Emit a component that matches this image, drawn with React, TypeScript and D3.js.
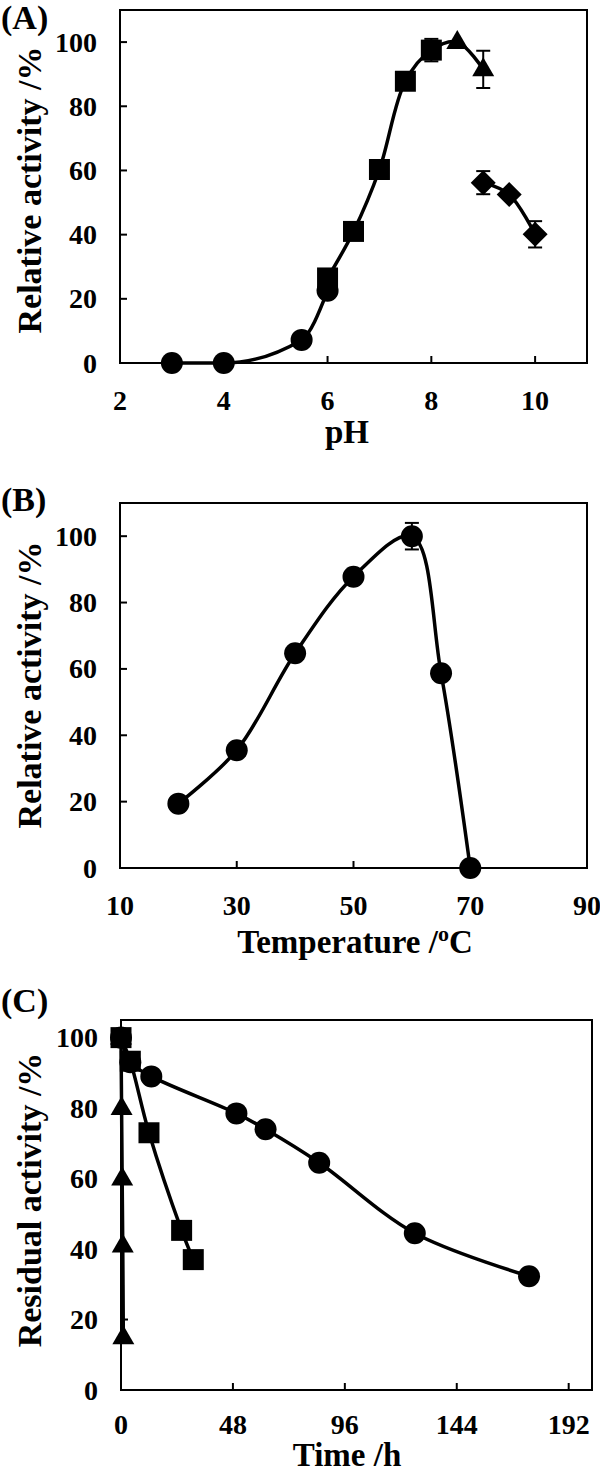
import React from 'react';
import * as d3 from 'd3';

// ---------- Panel A: pH ----------
const phCircleX = [3, 4, 5.5, 6];
const phCircleY = [0, 0, 7.2, 22.5];
const phSquareX = [6, 6.5, 7, 7.5, 8];
const phSquareY = [26.5, 41, 60.3, 87.8, 97.5];
const phSquareErr = [0, 0, 0, 0, 3.5];
const phTriangleX = [8.5, 9];
const phTriangleY = [100, 91.5];
const phTriangleErr = [0, 5.8];
const phDiamondX = [9, 9.5, 10];
const phDiamondY = [56.2, 52.5, 40.1];
const phDiamondErr = [3.6, 0, 4.1];
const phTicks = [2, 4, 6, 8, 10];
const activityTicks = [0, 20, 40, 60, 80, 100];

// ---------- Panel B: temperature ----------
const tempX = [20, 30, 40, 50, 60, 65, 70];
const tempY = [19.4, 35.5, 64.7, 87.8, 100, 58.7, 0];
const tempErr = [0, 0, 0, 1.8, 4, 0, 0];
const tempTicks = [10, 30, 50, 70, 90];

// ---------- Panel C: time ----------
const timeCircleX = [0, 4, 13, 49.5, 62, 85, 126, 175];
const timeCircleY = [100, 93, 89, 78.5, 74, 64.5, 44.5, 32.3];
const timeSquareX = [0, 4, 12, 26, 31];
const timeSquareY = [100, 93.3, 73, 45.3, 37];
const timeTriangleX = [0, 0.25, 0.5, 0.75, 1];
const timeTriangleY = [100, 80, 60, 41, 15];
const timeTicks = [0, 48, 96, 144, 192];

const FONT = '"Liberation Serif", "Times New Roman", serif';

type Marker = 'circle' | 'square' | 'triangle' | 'diamond';
type Series = { x: number[]; y: number[]; err?: number[]; marker: Marker };
type LineData = { x: number[]; y: number[]; monotone?: boolean };

function markerPath(m: Marker, cx: number, cy: number): string {
  if (m === 'square') {
    const h = 10.5;
    return `M${cx - h},${cy - h}H${cx + h}V${cy + h}H${cx - h}Z`;
  }
  if (m === 'triangle') {
    return `M${cx},${cy - 12}L${cx + 11},${cy + 7}L${cx - 11},${cy + 7}Z`;
  }
  if (m === 'diamond') {
    const h = 12.5;
    return `M${cx},${cy - h}L${cx + h},${cy}L${cx},${cy + h}L${cx - h},${cy}Z`;
  }
  const r = 11;
  return `M${cx - r},${cy}A${r},${r} 0 1,0 ${cx + r},${cy}A${r},${r} 0 1,0 ${cx - r},${cy}Z`;
}

type PanelProps = {
  left: number; right: number; top: number; bottom: number;
  xDomain: [number, number]; yDomain: [number, number];
  xTicks: number[]; yTicks: number[];
  label: string; labelY: number;
  xTitle: React.ReactNode; xTitleY: number; xTitleX: number;
  xLabelOffset: number;
  yTitle: string; yTitleY: number;
  lines: LineData[];
  series: Series[];
};

function Panel(p: PanelProps) {
  const x = d3.scaleLinear().domain(p.xDomain).range([p.left, p.right]);
  const y = d3.scaleLinear().domain(p.yDomain).range([p.bottom, p.top]);
  const mk = (mono?: boolean) =>
    d3
      .line<[number, number]>()
      .x((d) => x(d[0]))
      .y((d) => y(d[1]))
      .curve(mono ? d3.curveMonotoneX : d3.curveCatmullRom.alpha(0.5));
  return (
    <g fontFamily={FONT} fontWeight="bold" fill="#000">
      <text x={1} y={p.labelY} fontSize={34}>{p.label}</text>
      <rect x={p.left} y={p.top} width={p.right - p.left} height={p.bottom - p.top}
        fill="none" stroke="#000" strokeWidth={2} />
      {p.yTicks.map((t) => (
        <g key={'yt' + t}>
          <line x1={p.left} x2={p.left + 7} y1={y(t)} y2={y(t)} stroke="#000" strokeWidth={2} />
          <text x={p.left - 23} y={y(t)} dy="0.34em" textAnchor="end" fontSize={28}>{t}</text>
        </g>
      ))}
      {p.xTicks.map((t) => (
        <g key={'xt' + t}>
          <line x1={x(t)} x2={x(t)} y1={p.bottom} y2={p.bottom - 7} stroke="#000" strokeWidth={2} />
          <text x={x(t)} y={p.bottom + p.xLabelOffset} textAnchor="middle" fontSize={28}>{t}</text>
        </g>
      ))}
      {p.lines.map((l, i) => (
        <path key={'l' + i}
          d={mk(l.monotone)(l.x.map((v, j) => [v, l.y[j]] as [number, number])) || ''}
          fill="none" stroke="#000" strokeWidth={3.5} />
      ))}
      {p.series.map((s, si) => (
        <g key={'s' + si}>
          {s.err && s.x.map((v, j) =>
            s.err![j] > 0 ? (
              <g key={'e' + j} stroke="#000" strokeWidth={2}>
                <line x1={x(v)} x2={x(v)} y1={y(s.y[j] - s.err![j])} y2={y(s.y[j] + s.err![j])} />
                <line x1={x(v) - 7} x2={x(v) + 7} y1={y(s.y[j] - s.err![j])} y2={y(s.y[j] - s.err![j])} />
                <line x1={x(v) - 7} x2={x(v) + 7} y1={y(s.y[j] + s.err![j])} y2={y(s.y[j] + s.err![j])} />
              </g>
            ) : null
          )}
          {s.x.map((v, j) => (
            <path key={'m' + j} d={markerPath(s.marker, x(v), y(s.y[j]))} fill="#000" />
          ))}
        </g>
      ))}
      <text x={p.xTitleX} y={p.xTitleY} textAnchor="middle" fontSize={33}>{p.xTitle}</text>
      <text transform={`translate(41,${p.yTitleY}) rotate(-90)`} textAnchor="middle" fontSize={34}>{p.yTitle}</text>
    </g>
  );
}

export default function App() {
  const phLowX = phCircleX;
  const phLowY = phCircleY;
  const phHighX = [...phSquareX, ...phTriangleX];
  const phHighY = [...phSquareY, ...phTriangleY];
  return (
    <svg width={600} height={1472} style={{ position: 'absolute', left: 0, top: 0, background: '#fff' }}>
      <rect x={0} y={0} width={600} height={1472} fill="#fff" />
      <Panel
        left={120} right={587} top={10} bottom={363}
        xDomain={[2, 11]} yDomain={[0, 110]}
        xTicks={phTicks} yTicks={activityTicks}
        label="(A)" labelY={29}
        xTitle="pH" xTitleX={347} xTitleY={443} xLabelOffset={47}
        yTitle="Relative activity /%" yTitleY={190}
        lines={[
          { x: phLowX, y: phLowY, monotone: true },
          { x: phHighX, y: phHighY },
          { x: phDiamondX, y: phDiamondY },
        ]}
        series={[
          { x: phCircleX, y: phCircleY, marker: 'circle' },
          { x: phSquareX, y: phSquareY, err: phSquareErr, marker: 'square' },
          { x: phTriangleX, y: phTriangleY, err: phTriangleErr, marker: 'triangle' },
          { x: phDiamondX, y: phDiamondY, err: phDiamondErr, marker: 'diamond' },
        ]}
      />
      <Panel
        left={120} right={587} top={503} bottom={868}
        xDomain={[10, 90]} yDomain={[0, 110]}
        xTicks={tempTicks} yTicks={activityTicks}
        label="(B)" labelY={511}
        xTitle={<>Temperature /<tspan fontSize={22} dy={-12}>o</tspan><tspan dy={12}>C</tspan></>}
        xTitleX={355} xTitleY={953} xLabelOffset={47}
        yTitle="Relative activity /%" yTitleY={685}
        lines={[{ x: tempX, y: tempY }]}
        series={[{ x: tempX, y: tempY, err: tempErr, marker: 'circle' }]}
      />
      <Panel
        left={121} right={592} top={1020} bottom={1390}
        xDomain={[0, 202]} yDomain={[0, 105]}
        xTicks={timeTicks} yTicks={activityTicks}
        label="(C)" labelY={1012}
        xTitle="Time /h" xTitleX={347} xTitleY={1466} xLabelOffset={44}
        yTitle="Residual activity /%" yTitleY={1200}
        lines={[
          { x: timeTriangleX, y: timeTriangleY },
          { x: timeSquareX, y: timeSquareY },
          { x: timeCircleX, y: timeCircleY },
        ]}
        series={[
          { x: timeCircleX, y: timeCircleY, marker: 'circle' },
          { x: timeTriangleX, y: timeTriangleY, marker: 'triangle' },
          { x: timeSquareX, y: timeSquareY, marker: 'square' },
        ]}
      />
    </svg>
  );
}
